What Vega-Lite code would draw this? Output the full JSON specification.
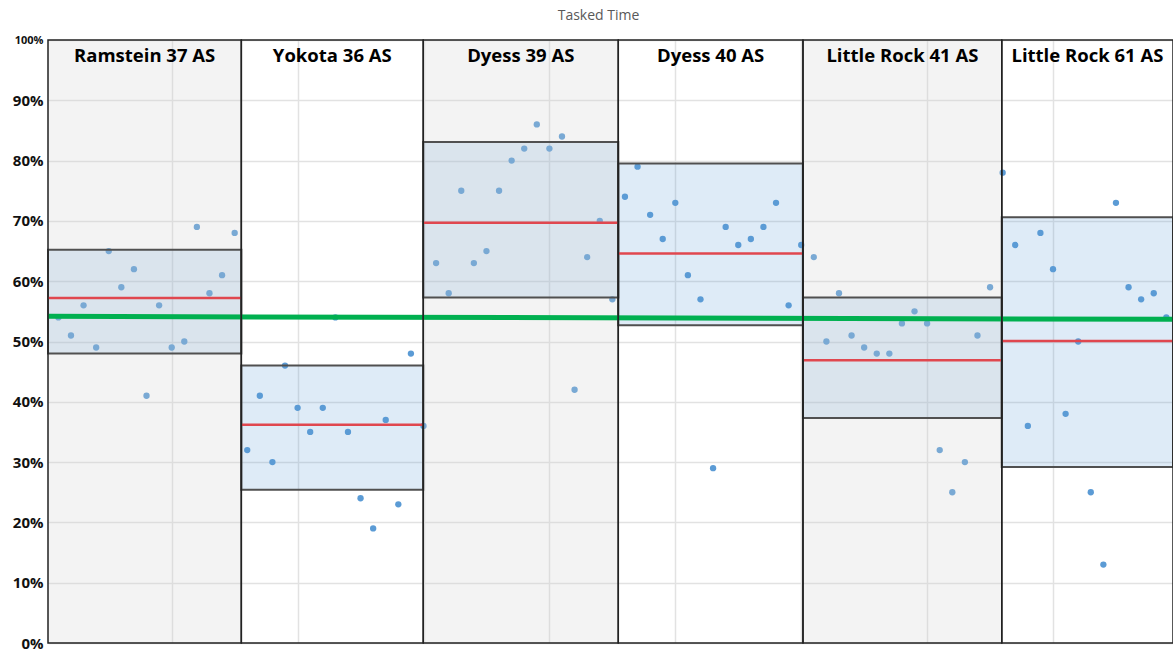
{
  "$schema": "https://vega.github.io/schema/vega-lite/v6.json",
  "width": 1125,
  "height": 603,
  "autosize": {"type": "none"},
  "padding": {"left": 48, "top": 40, "right": 0, "bottom": 9},
  "background": "white",
  "title": {"text": "Tasked Time", "fontSize": 14, "font": "Open Sans", "fontWeight": "normal", "color": "#595959", "dx": -12, "offset": 11},
  "config": {"view": {"stroke": null}, "font": "Open Sans"},
  "datasets": {
    "panels": [
      {"panel": "Ramstein 37 AS", "start": 0.175, "end": 15.53, "lo": 0.480, "hi": 0.652, "mean": 0.572},
      {"panel": "Yokota 36 AS", "start": 15.53, "end": 29.98, "lo": 0.254, "hi": 0.460, "mean": 0.362},
      {"panel": "Dyess 39 AS", "start": 29.98, "end": 45.47, "lo": 0.573, "hi": 0.831, "mean": 0.697},
      {"panel": "Dyess 40 AS", "start": 45.47, "end": 60.14, "lo": 0.527, "hi": 0.795, "mean": 0.646},
      {"panel": "Little Rock 41 AS", "start": 60.14, "end": 75.93, "lo": 0.373, "hi": 0.573, "mean": 0.469},
      {"panel": "Little Rock 61 AS", "start": 75.93, "end": 89.53, "lo": 0.292, "hi": 0.706, "mean": 0.501}
    ],
    "points": [
      {"n": 1, "v": 0.54}, {"n": 2, "v": 0.51}, {"n": 3, "v": 0.56}, {"n": 4, "v": 0.49}, {"n": 5, "v": 0.65},
      {"n": 6, "v": 0.59}, {"n": 7, "v": 0.62}, {"n": 8, "v": 0.41}, {"n": 9, "v": 0.56}, {"n": 10, "v": 0.49},
      {"n": 11, "v": 0.50}, {"n": 12, "v": 0.69}, {"n": 13, "v": 0.58}, {"n": 14, "v": 0.61}, {"n": 15, "v": 0.68},
      {"n": 16, "v": 0.32}, {"n": 17, "v": 0.41}, {"n": 18, "v": 0.30}, {"n": 19, "v": 0.46}, {"n": 20, "v": 0.39},
      {"n": 21, "v": 0.35}, {"n": 22, "v": 0.39}, {"n": 23, "v": 0.54}, {"n": 24, "v": 0.35}, {"n": 25, "v": 0.24},
      {"n": 26, "v": 0.19}, {"n": 27, "v": 0.37}, {"n": 28, "v": 0.23}, {"n": 29, "v": 0.48}, {"n": 30, "v": 0.36},
      {"n": 31, "v": 0.63}, {"n": 32, "v": 0.58}, {"n": 33, "v": 0.75}, {"n": 34, "v": 0.63}, {"n": 35, "v": 0.65},
      {"n": 36, "v": 0.75}, {"n": 37, "v": 0.80}, {"n": 38, "v": 0.82}, {"n": 39, "v": 0.86}, {"n": 40, "v": 0.82},
      {"n": 41, "v": 0.84}, {"n": 42, "v": 0.42}, {"n": 43, "v": 0.64}, {"n": 44, "v": 0.70}, {"n": 45, "v": 0.57},
      {"n": 46, "v": 0.74}, {"n": 47, "v": 0.79}, {"n": 48, "v": 0.71}, {"n": 49, "v": 0.67}, {"n": 50, "v": 0.73},
      {"n": 51, "v": 0.61}, {"n": 52, "v": 0.57}, {"n": 53, "v": 0.29}, {"n": 54, "v": 0.69}, {"n": 55, "v": 0.66},
      {"n": 56, "v": 0.67}, {"n": 57, "v": 0.69}, {"n": 58, "v": 0.73}, {"n": 59, "v": 0.56}, {"n": 60, "v": 0.66},
      {"n": 61, "v": 0.64}, {"n": 62, "v": 0.50}, {"n": 63, "v": 0.58}, {"n": 64, "v": 0.51}, {"n": 65, "v": 0.49},
      {"n": 66, "v": 0.48}, {"n": 67, "v": 0.48}, {"n": 68, "v": 0.53}, {"n": 69, "v": 0.55}, {"n": 70, "v": 0.53},
      {"n": 71, "v": 0.32}, {"n": 72, "v": 0.25}, {"n": 73, "v": 0.30}, {"n": 74, "v": 0.51}, {"n": 75, "v": 0.59},
      {"n": 76, "v": 0.78}, {"n": 77, "v": 0.66}, {"n": 78, "v": 0.36}, {"n": 79, "v": 0.68}, {"n": 80, "v": 0.62},
      {"n": 81, "v": 0.38}, {"n": 82, "v": 0.50}, {"n": 83, "v": 0.25}, {"n": 84, "v": 0.13}, {"n": 85, "v": 0.73},
      {"n": 86, "v": 0.59}, {"n": 87, "v": 0.57}, {"n": 88, "v": 0.58}, {"n": 89, "v": 0.54}
    ],
    "trend": [
      {"x": 0.175, "y": 0.5417},
      {"x": 89.53, "y": 0.5368}
    ]
  },
  "layer": [
    {
      "data": {"name": "panels"},
      "mark": {"type": "rect", "fill": "#5b9bd5", "fillOpacity": 0.2, "strokeWidth": 0},
      "encoding": {
        "x": {"field": "start", "type": "quantitative", "scale": {"domain": [0.175, 89.53], "nice": false, "zero": false},
          "axis": {"values": [10, 20, 30, 40, 50, 60, 70, 80], "labels": false, "ticks": false, "domain": false, "title": null, "gridColor": "#e2e2e2", "gridWidth": 1.5}},
        "x2": {"field": "end"},
        "y": {"field": "lo", "type": "quantitative", "scale": {"domain": [0, 1], "nice": false},
          "axis": {"values": [0, 0.1, 0.2, 0.3, 0.4, 0.5, 0.6, 0.7, 0.8, 0.9, 1], "format": ".0%", "title": null, "domain": false, "ticks": false,
            "labelFont": "Open Sans", "labelFontWeight": "bold", "labelColor": "#111111", "labelPadding": 5,
            "labelFontSize": {"condition": {"test": "datum.value == 1", "value": 11}, "value": 15},
            "gridColor": "#e2e2e2", "gridWidth": 1.5}},
        "y2": {"field": "hi"}
      }
    },
    {
      "data": {"name": "points"},
      "mark": {"type": "circle", "size": 40, "color": "#5b9bd5", "opacity": 1},
      "encoding": {
        "x": {"field": "n", "type": "quantitative"},
        "y": {"field": "v", "type": "quantitative"}
      }
    },
    {
      "data": {"name": "panels"},
      "transform": [{"filter": {"field": "panel", "oneOf": ["Ramstein 37 AS", "Dyess 39 AS", "Little Rock 41 AS"]}}],
      "mark": {"type": "rect", "fill": "#d0d0d0", "fillOpacity": 0.26, "strokeWidth": 0},
      "encoding": {
        "x": {"field": "start", "type": "quantitative"},
        "x2": {"field": "end"},
        "y": {"datum": 0, "type": "quantitative"},
        "y2": {"datum": 1}
      }
    },
    {
      "data": {"name": "panels"},
      "mark": {"type": "rect", "fillOpacity": 0, "stroke": "#505050", "strokeWidth": 2},
      "encoding": {
        "x": {"field": "start", "type": "quantitative"},
        "x2": {"field": "end"},
        "y": {"field": "lo", "type": "quantitative"},
        "y2": {"field": "hi"}
      }
    },
    {
      "data": {"name": "panels"},
      "mark": {"type": "rule", "color": "#e0474f", "strokeWidth": 2.5},
      "encoding": {
        "x": {"field": "start", "type": "quantitative"},
        "x2": {"field": "end"},
        "y": {"field": "mean", "type": "quantitative"}
      }
    },
    {
      "data": {"name": "trend"},
      "mark": {"type": "line", "color": "#00b050", "strokeWidth": 5},
      "encoding": {
        "x": {"field": "x", "type": "quantitative"},
        "y": {"field": "y", "type": "quantitative"}
      }
    },
    {
      "data": {"name": "panels"},
      "mark": {"type": "rect", "fillOpacity": 0, "stroke": "#222222", "strokeWidth": 1.5},
      "encoding": {
        "x": {"field": "start", "type": "quantitative"},
        "x2": {"field": "end"},
        "y": {"datum": 0, "type": "quantitative"},
        "y2": {"datum": 1}
      }
    },
    {
      "data": {"name": "panels"},
      "transform": [{"calculate": "(datum.start + datum.end) / 2", "as": "mid"}],
      "mark": {"type": "text", "font": "Open Sans", "fontWeight": "bold", "fontSize": 18.5, "color": "#000000", "baseline": "alphabetic", "align": "center", "dy": 22},
      "encoding": {
        "x": {"field": "mid", "type": "quantitative"},
        "y": {"datum": 1, "type": "quantitative"},
        "text": {"field": "panel"}
      }
    }
  ]
}
